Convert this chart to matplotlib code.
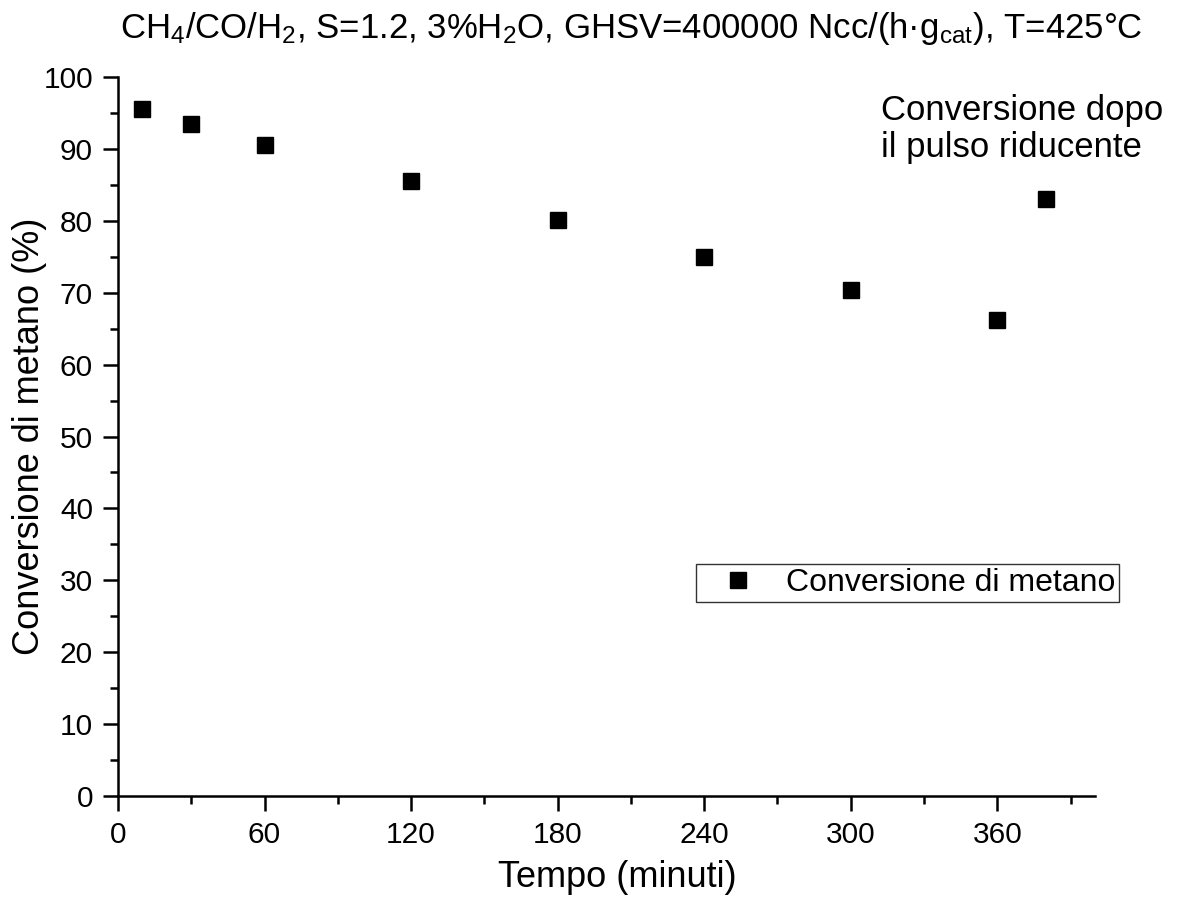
import matplotlib
matplotlib.use("Agg")
import matplotlib.pyplot as plt
from matplotlib.ticker import MultipleLocator

plt.rcParams['font.family'] = ['Liberation Sans', 'DejaVu Sans']
plt.rcParams['mathtext.fontset'] = 'custom'
plt.rcParams['mathtext.rm'] = 'Liberation Sans'
plt.rcParams['mathtext.it'] = 'Liberation Sans:italic'
plt.rcParams['mathtext.bf'] = 'Liberation Sans:bold'

# tempo (min) e conversione di metano (%)
tempo = [10, 30, 60, 120, 180, 240, 300, 360, 380]
conversione = [95.6, 93.4, 90.5, 85.5, 80.1, 75.0, 70.4, 66.2, 83.1]

W, H = 1179, 899
fig = plt.figure(figsize=(W / 100, H / 100), dpi=100)
ax = fig.add_axes([118 / W, 1 - 796 / H, (1095 - 118) / W, (796 - 77) / H])

ax.plot(tempo, conversione, linestyle='none', marker='s', markersize=12,
        color='black', label='Conversione di metano', clip_on=False)

ax.set_xlim(0, 400)
ax.set_ylim(0, 100)
ax.xaxis.set_major_locator(MultipleLocator(60))
ax.xaxis.set_minor_locator(MultipleLocator(30))
ax.yaxis.set_major_locator(MultipleLocator(10))
ax.yaxis.set_minor_locator(MultipleLocator(5))
ax.set_xticks([0, 60, 120, 180, 240, 300, 360])

for s in ['top', 'right']:
    ax.spines[s].set_visible(False)
for s in ['left', 'bottom']:
    ax.spines[s].set_linewidth(1.8)

ax.tick_params(which='major', direction='out', length=11, width=1.8,
               labelsize=21.5, pad=7)
ax.tick_params(which='minor', direction='out', length=6, width=1.8)

ax.set_xlabel('Tempo (minuti)', fontsize=26)
ax.set_ylabel('Conversione di metano (%)', fontsize=26)
ax.xaxis.set_label_coords((617 - 118) / 977, (796 - 860) / 719)
ax.yaxis.set_label_coords((47 - 118) / 977, 0.5)

title = (r'CH$_4$/CO/H$_2$, S=1.2, 3%H$_2$O, '
         r'GHSV=400000 Ncc/(h·g$_{\mathrm{cat}}$), T=425°C')
fig.text(631 / W, 1 - 38 / H, title, fontsize=25, ha='center', va='baseline')

fig.text(881 / W, 1 - 157 / H, 'Conversione dopo\nil pulso riducente',
         fontsize=25, ha='left', va='baseline', linespacing=1.15)

leg = ax.legend(loc='upper left', bbox_to_anchor=(696 / W, 1 - 564 / H),
                bbox_transform=fig.transFigure, fontsize=23, frameon=True,
                fancybox=False, edgecolor='black', borderpad=0.12,
                handlelength=2.4, handletextpad=0.3, borderaxespad=0,
                markerscale=0.95)
leg.get_frame().set_linewidth(1.0)

fig.savefig('out.png', dpi=100)
